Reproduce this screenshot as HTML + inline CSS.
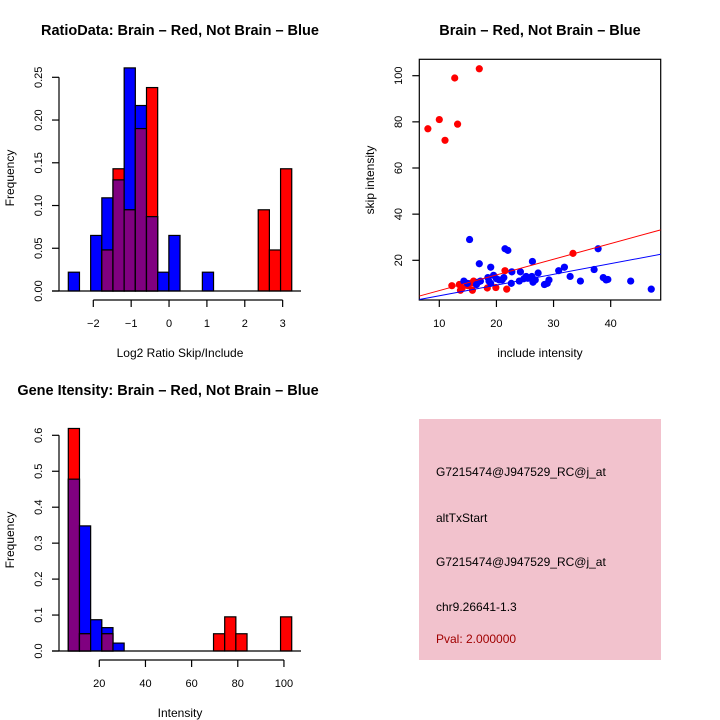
<!DOCTYPE html>
<html><head><meta charset="utf-8">
<style>
body{margin:0;background:#fff;}
svg{display:block;font-family:"Liberation Sans",sans-serif;}
</style></head>
<body>
<svg id="root" width="720" height="720" viewBox="0 0 720 720">
<rect width="720" height="720" fill="#fff"/>
<text x="180" y="35" text-anchor="middle" font-size="14.5" font-weight="bold">RatioData: Brain – Red, Not Brain – Blue</text>
<text x="540" y="35" text-anchor="middle" font-size="14.5" font-weight="bold">Brain – Red, Not Brain – Blue</text>
<text x="168" y="395" text-anchor="middle" font-size="14.5" font-weight="bold">Gene Itensity: Brain – Red, Not Brain – Blue</text>
<text x="180" y="357" text-anchor="middle" font-size="12">Log2 Ratio Skip/Include</text>
<text transform="translate(14,178) rotate(-90)" text-anchor="middle" font-size="12">Frequency</text>
<text x="540" y="357" text-anchor="middle" font-size="12">include intensity</text>
<text transform="translate(374,180) rotate(-90)" text-anchor="middle" font-size="12">skip intensity</text>
<text x="180" y="717" text-anchor="middle" font-size="12">Intensity</text>
<text transform="translate(14,540) rotate(-90)" text-anchor="middle" font-size="12">Frequency</text>
<g id="h1"></g>
<g id="sc"></g>
<g id="h2"></g>
<g>
<rect x="419" y="419" width="242" height="241" fill="#f2c2cd"/>
<text x="436" y="476" font-size="12">G7215474@J947529_RC@j_at</text>
<text x="436" y="522" font-size="12">altTxStart</text>
<text x="436" y="566" font-size="12">G7215474@J947529_RC@j_at</text>
<text x="436" y="611" font-size="12">chr9.26641-1.3</text>
<text x="436" y="643" font-size="12" fill="#a00000">Pval: 2.000000</text>
</g>
</svg>
<script>
// Ratio histogram data
const ratioBinStart = -2.66, ratioBinWidth = 0.295;
const ratioBlue = [0.022,0,0.065,0.109,0.130,0.261,0.217,0.087,0.022,0.065,0,0,0.022,0,0,0,0,0,0,0];
const ratioRed  = [0,0,0,0.048,0.143,0.095,0.190,0.238,0,0,0,0,0,0,0,0,0,0.095,0.048,0.143];
const ratioXTicks = [-2,-1,0,1,2,3];
const ratioYTicks = [0,0.05,0.10,0.15,0.20,0.25];
const ratioYLabels = ["0.00","0.05","0.10","0.15","0.20","0.25"];
// Intensity histogram data
const intBinStart = 6.57, intBinWidth = 4.84;
const intBlue = [0.478,0.348,0.087,0.065,0.022,0,0,0,0,0,0,0,0,0,0,0,0,0,0,0];
const intRed  = [0.619,0.048,0,0.048,0,0,0,0,0,0,0,0,0,0.048,0.095,0.048,0,0,0,0.095];
const intXTicks = [20,40,60,80,100];
const intYTicks = [0,0.1,0.2,0.3,0.4,0.5,0.6];
const intYLabels = ["0.0","0.1","0.2","0.3","0.4","0.5","0.6"];
// Scatter data
const redX = [8,10,11,12.7,13.2,17,12.2,13.5,14,13.7,15,15.5,16,16.2,15.8,18.4,19.9,21.5,21.8,33.4];
const redY = [77,81,72,99,79,103,9,9.5,8,7,9,10,11,10,7,8,8.2,15.5,7.5,23];
const blueX = [15.3,17,21.5,22,19,26.3,37.8,31.9,37.1,30.9,27.3,24.2,22.7,14.3,14.9,16.5,16.8,17.2,18.5,18.7,19,19.5,20,20.5,21.3,21,22.6,24,24.8,25.2,25.5,26.2,26.5,26.8,26.4,28.4,28.9,29.2,32.9,34.7,38.7,39.2,39.5,43.5,47.1];
const blueY = [29,18.5,25,24.3,17,19.5,25,17,16,15.5,14.5,15,15,11,10,9.5,10.5,11,12.5,11,10,13.5,12,11.5,12.5,11.5,10,11,12,13,12.2,13,11,11.5,10.5,9.5,10,11.5,13,11,12.5,11.5,11.7,11,7.5];
const redFit = [0.09,0.679];   // intercept, slope
const blueFit = [-0.02,0.464];
const scXTicks = [10,20,30,40];
const scYTicks = [20,40,60,80,100];

const NS="http://www.w3.org/2000/svg";
function mk(p,tag,attrs){const e=document.createElementNS(NS,tag);for(const k in attrs)e.setAttribute(k,attrs[k]);p.appendChild(e);return e;}

function hist(g,opt){
  const sx=v=>opt.x0+(v-opt.v0)*opt.kx, sy=v=>opt.y0-v*opt.ky;
  opt.blue.forEach((b,i)=>{
    const r=opt.red[i];const xl=sx(opt.bs+i*opt.bw), xr=sx(opt.bs+(i+1)*opt.bw);
    const drawBar=(v,fill,name)=>{if(v<=0)return;const el=mk(g,'rect',{x:xl,y:sy(v),width:xr-xl,height:sy(0)-sy(v),fill:fill,stroke:'#000','stroke-width':1.2});
      
      };
    drawBar(b,'#0000ff','bar-blue-'+i);
    drawBar(r,'#ff0000','bar-red-'+i);
    if(b>0&&r>0)drawBar(Math.min(b,r),'#800080','bar-overlap-'+i);
  });
  const bl=mk(g,'line',{x1:opt.axL,x2:opt.axR,y1:sy(0),y2:sy(0),stroke:'#000','stroke-width':1.2});
  
  
  const ya=mk(g,'line',{x1:59,x2:59,y1:sy(0),y2:sy(opt.yt[opt.yt.length-1]),stroke:'#000','stroke-width':1.2});
  
  
  opt.yt.forEach((t,i)=>{mk(g,'line',{x1:52,x2:59,y1:sy(t),y2:sy(t),stroke:'#000','stroke-width':1.2});
    const tx=mk(g,'text',{transform:`translate(42,${sy(t)}) rotate(-90)`,'text-anchor':'middle','font-size':11});tx.textContent=opt.yl[i];
    
    });
  const xa=mk(g,'line',{x1:sx(opt.xt[0]),x2:sx(opt.xt[opt.xt.length-1]),y1:opt.xay,y2:opt.xay,stroke:'#000','stroke-width':1.2});
  
  
  opt.xt.forEach(t=>{mk(g,'line',{x1:sx(t),x2:sx(t),y1:opt.xay,y2:opt.xay+7,stroke:'#000','stroke-width':1.2});
    const tx=mk(g,'text',{x:sx(t),y:opt.xay+27,'text-anchor':'middle','font-size':11});tx.textContent=String(t).replace('-','\u2212');
    
    });
}
hist(document.getElementById('h1'),{x0:93.3,v0:-2,kx:37.87,y0:291,ky:854.8,bs:ratioBinStart,bw:ratioBinWidth,blue:ratioBlue,red:ratioRed,xt:ratioXTicks,yt:ratioYTicks,yl:ratioYLabels,axL:52,axR:301,xay:300});
hist(document.getElementById('h2'),{x0:99.3,v0:20,kx:2.308,y0:651,ky:359.5,bs:intBinStart,bw:intBinWidth,blue:intBlue,red:intRed,xt:intXTicks,yt:intYTicks,yl:intYLabels,axL:52,axR:301,xay:660});

(function(){
  const g=document.getElementById('sc');
  const L=419.3,R=660.7,T=59.3,B=300;
  const sx=v=>439.3+(v-10)*5.713, sy=v=>260.3-(v-20)*2.3075;
  const xmin=(L-439.3)/5.713+10, xmax=(R-439.3)/5.713+10;
  const cp=mk(g,'clipPath',{id:'scclip'});mk(cp,'rect',{x:L,y:T,width:R-L,height:B-T});
  const box=mk(g,'rect',{x:L,y:T,width:R-L,height:B-T,fill:'none',stroke:'#000','stroke-width':1.2});
  
  
  redX.forEach((x,i)=>{const c=mk(g,'circle',{cx:sx(x),cy:sy(redY[i]),r:3.6,fill:'#ff0000'});
    
    });
  blueX.forEach((x,i)=>{const c=mk(g,'circle',{cx:sx(x),cy:sy(blueY[i]),r:3.6,fill:'#0000ff'});
    
    });
  [[redFit,'#ff0000','fit-line-red'],[blueFit,'#0000ff','fit-line-blue']].forEach(([f,c,n])=>{
    const l=mk(g,'line',{x1:sx(xmin),y1:sy(f[0]+f[1]*xmin),x2:sx(xmax),y2:sy(f[0]+f[1]*xmax),stroke:c,'stroke-width':1,'clip-path':'url(#scclip)'});
    
    });
  scXTicks.forEach(t=>{mk(g,'line',{x1:sx(t),x2:sx(t),y1:B,y2:B+7,stroke:'#000','stroke-width':1.2});
    const tx=mk(g,'text',{x:sx(t),y:B+27,'text-anchor':'middle','font-size':11});tx.textContent=t;
    
    });
  scYTicks.forEach(t=>{mk(g,'line',{x1:L-7,x2:L,y1:sy(t),y2:sy(t),stroke:'#000','stroke-width':1.2});
    const tx=mk(g,'text',{transform:`translate(402,${sy(t)}) rotate(-90)`,'text-anchor':'middle','font-size':11});tx.textContent=t;
    
    });
})();
</script>
</body></html>
